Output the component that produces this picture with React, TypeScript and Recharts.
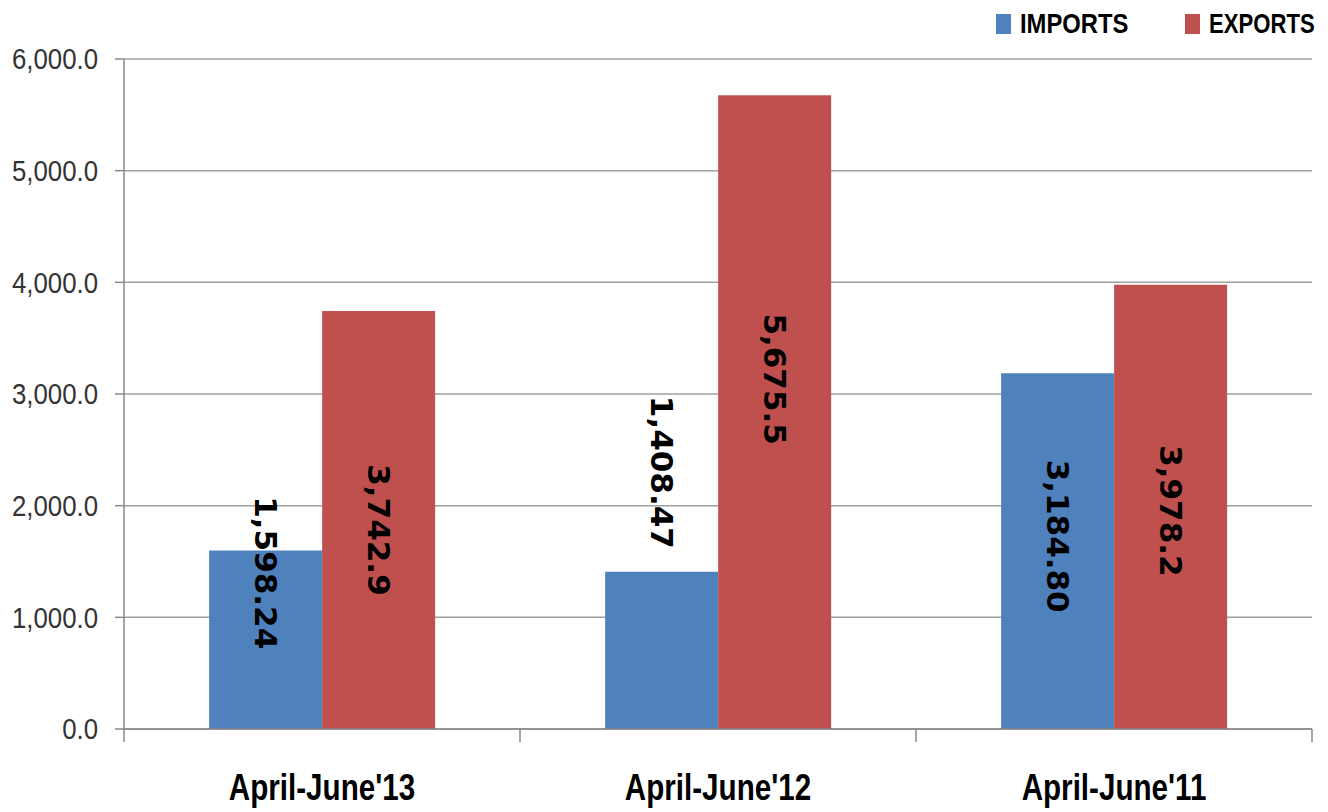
import React from "react";
import { BarChart, Bar, XAxis, YAxis, CartesianGrid, LabelList } from "recharts";

const periods = ["April-June'13", "April-June'12", "April-June'11"];
const imports = [1598.24, 1408.47, 3184.8];
const exports = [3742.9, 5675.5, 3978.2];
const yTicks = [0, 1000, 2000, 3000, 4000, 5000, 6000];

const W = 1328;
const H = 812;
const LEFT = 124;
const RIGHT = 16;
const TOP = 59;
const BOTTOM = 83;
const BAND = (W - LEFT - RIGHT) / periods.length;

const BLUE = "#4F81BD";
const RED = "#C0504D";
// no narrow font installed, so squeeze Liberation Sans horizontally
const SANS = "'Liberation Sans', Arial, sans-serif";

const chartData = periods.map((p, i) => ({ name: p, imports: imports[i], exports: exports[i] }));

// where excel put the rotated labels, relative to the bar middle
const nudge: Record<string, number[]> = {
  imports: [-67, -178, -15],
  exports: [10, -33, 4],
};

const fmt = (v: number, d: number) =>
  v.toLocaleString("en-US", { minimumFractionDigits: d, maximumFractionDigits: d });

function makeLabel(key: string, digits: number) {
  return (props: any) => {
    const { x, y, width, height, value, index } = props;
    const cx = Number(x) + Number(width) / 2;
    const cy = Number(y) + Number(height) / 2 + nudge[key][index];
    return (
      <text
        x={cx}
        y={cy}
        transform={`rotate(90, ${cx}, ${cy})`}
        textAnchor="middle"
        dominantBaseline="central"
        fontFamily="'DejaVu Sans', Verdana, sans-serif"
        fontWeight="bold"
        fontSize={31}
        fill="#000"
      >
        {fmt(Number(value), digits)}
      </text>
    );
  };
}

function XTick(props: any) {
  const { x, payload, index } = props;
  const axisY = H - BOTTOM;
  const ty = axisY + 71;
  return (
    <g>
      <line x1={x - BAND / 2} y1={axisY} x2={x - BAND / 2} y2={axisY + 13} stroke="#888" strokeWidth={1.5} />
      {index === periods.length - 1 && (
        <line x1={x + BAND / 2} y1={axisY} x2={x + BAND / 2} y2={axisY + 13} stroke="#888" strokeWidth={1.5} />
      )}
      <g transform={`translate(${x}, ${ty}) scale(0.8, 1)`}>
        <text x={0} y={0} textAnchor="middle" fontFamily={SANS} fontWeight="bold" fontSize={37} fill="#000">
          {payload.value}
        </text>
      </g>
    </g>
  );
}

function YTick(props: any) {
  const { y, payload } = props;
  return (
    <g transform={`translate(98, ${y}) scale(0.89, 1)`}>
      <text x={0} y={0} dy="0.36em" textAnchor="end" fontFamily={SANS} fontSize={29} fill="#333">
        {fmt(payload.value, 1)}
      </text>
    </g>
  );
}

const legendItems = [
  { label: "IMPORTS", color: BLUE, left: 996, squeeze: 0.85 },
  { label: "EXPORTS", color: RED, left: 1185, squeeze: 0.79 },
];

function LegendBox() {
  return (
    <>
      {legendItems.map((it) => (
        <div key={it.label} style={{ position: "absolute", left: it.left, top: 8, display: "flex", alignItems: "center" }}>
          <span style={{ display: "inline-block", width: 15, height: 20, background: it.color, marginRight: 9 }} />
          <span
            style={{
              fontFamily: SANS,
              fontWeight: "bold",
              fontSize: 28,
              color: "#000",
              lineHeight: "32px",
              display: "inline-block",
              transform: `scaleX(${it.squeeze})`,
              transformOrigin: "left center",
            }}
          >
            {it.label}
          </span>
        </div>
      ))}
    </>
  );
}

export default function App() {
  return (
    <div style={{ position: "absolute", left: 0, top: 0, width: W, height: H, background: "#fff" }}>
      <BarChart
        width={W}
        height={H}
        data={chartData}
        margin={{ top: TOP, right: RIGHT, bottom: 0, left: 0 }}
        barCategoryGap="21.5%"
        barGap={0}
      >
        <CartesianGrid vertical={false} stroke="#a0a0a0" strokeWidth={1.5} />
        <XAxis
          dataKey="name"
          height={BOTTOM}
          axisLine={{ stroke: "#888", strokeWidth: 1.5 }}
          tickLine={false}
          tick={<XTick />}
          interval={0}
        />
        <YAxis
          width={LEFT}
          domain={[0, 6000]}
          ticks={yTicks}
          interval={0}
          axisLine={{ stroke: "#888", strokeWidth: 1.5 }}
          tickLine={{ stroke: "#888", strokeWidth: 1.5 }}
          tickSize={9}
          tick={<YTick />}
        />
        <Bar dataKey="imports" fill={BLUE} isAnimationActive={false}>
          <LabelList dataKey="imports" content={makeLabel("imports", 2)} />
        </Bar>
        <Bar dataKey="exports" fill={RED} isAnimationActive={false}>
          <LabelList dataKey="exports" content={makeLabel("exports", 1)} />
        </Bar>
      </BarChart>
      <LegendBox />
    </div>
  );
}
